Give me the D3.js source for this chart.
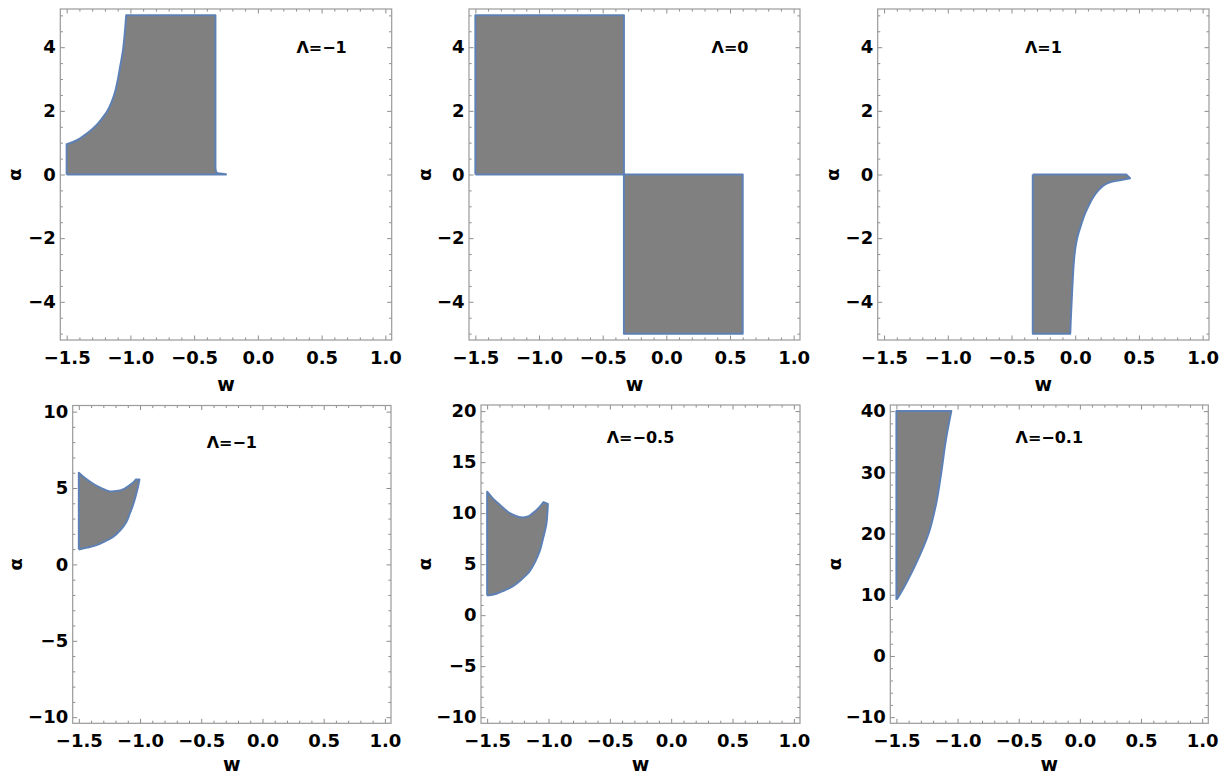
<!DOCTYPE html>
<html>
<head>
<meta charset="utf-8">
<script src="https://cdn.jsdelivr.net/npm/d3@7"></script>
<style>
  html, body { margin: 0; padding: 0; background: #ffffff; }
  svg { display: block; }
  text { font-family: "DejaVu Sans", sans-serif; font-weight: bold; fill: #000; }
</style>
</head>
<body>
<svg id="chart" width="1224" height="776"></svg>
<script>
// ---------- data ----------
const panelTitles = ["Λ=−1", "Λ=0", "Λ=1", "Λ=−1", "Λ=−0.5", "Λ=−0.1"];
const xTickValues = [-1.5, -1.0, -0.5, 0.0, 0.5, 1.0];
const yTicksTop = [-4, -2, 0, 2, 4];
const yTicksP4 = [-10, -5, 0, 5, 10];
const yTicksP5 = [-10, -5, 0, 5, 10, 15, 20];
const yTicksP6 = [-10, 0, 10, 20, 30, 40];
const xLabel = "w";
const yLabel = "α";

// region boundaries [w, α, corner-flag]
const regionP1 = [[-1.5,0,1],[-1.5,0.95,1],[-1.45,1.02],[-1.4,1.12],[-1.35,1.26],[-1.3,1.42],[-1.25,1.62],
  [-1.2,1.88],[-1.18,2.0],[-1.15,2.25],[-1.12,2.6],[-1.1,2.95],[-1.08,3.4],[-1.06,3.85],[-1.045,4.4],
  [-1.033,5.0,1],[-0.333,5.0,1],[-0.333,0.22,1],[-0.325,0.07],[-0.30,0.03],[-0.25,0.01,1],[-0.25,0.0,1]];
const regionP2a = [[-1.5,0,1],[-1.5,5,1],[-0.333,5,1],[-0.333,0,1]];
const regionP2b = [[-0.333,0,1],[0.6,0,1],[0.6,-5,1],[-0.333,-5,1]];
const regionP3 = [[-0.333,0,1],[0.40,0,1],[0.43,-0.12,1],[0.36,-0.17],[0.267,-0.25],[0.22,-0.35],[0.181,-0.5],
  [0.14,-0.72],[0.103,-1.0],[0.07,-1.3],[0.045,-1.6],[0.025,-1.85],[0.01,-2.1],[-0.005,-2.5],[-0.015,-3.0],
  [-0.022,-3.5],[-0.028,-4.0],[-0.034,-4.5],[-0.039,-5,1],[-0.333,-5,1]];
const regionP4 = [[-1.5,0.98,1],[-1.5,6.0,1],[-1.45,5.65],[-1.383,5.28],[-1.32,5.0],[-1.248,4.78],[-1.19,4.8],
  [-1.139,4.91],[-1.1,5.1],[-1.058,5.35],[-1.035,5.55,1],[-1.005,5.55,1],[-1.017,5.06],[-1.035,4.5],
  [-1.058,3.87],[-1.085,3.3],[-1.112,2.78],[-1.16,2.25],[-1.221,1.80],[-1.29,1.5],[-1.356,1.26],
  [-1.43,1.1]];
const regionP5 = [[-1.5,1.93,1],[-1.5,12.1,1],[-1.45,11.4],[-1.397,10.82],[-1.316,10.0],[-1.26,9.7],[-1.208,9.58],
  [-1.16,9.7],[-1.127,10.0],[-1.08,10.5],[-1.04,11.08,1],[-1.005,10.9,1],[-1.018,8.87],[-1.045,7.5],
  [-1.072,6.26],[-1.11,5.2],[-1.153,4.31],[-1.22,3.5],[-1.289,2.84],[-1.36,2.42],[-1.424,2.10]];
const regionP6 = [[-1.5,9.2,1],[-1.5,40,1],[-1.051,40,1],[-1.071,38],[-1.098,35],[-1.133,30],[-1.174,25],
  [-1.237,20],[-1.342,15],[-1.473,10]];

// ---------- layout ----------
const panels = [
  {box:[60.3, 9, 391.7, 340], yDom:[-5.2,5.2], yTicks:yTicksTop, yMinor:0.5, regions:[regionP1], title:[0.5,4], yLabOff:46, xLabOff:51},
  {box:[469, 9, 800, 340], yDom:[-5.2,5.2], yTicks:yTicksTop, yMinor:0.5, regions:[regionP2a, regionP2b], title:[0.5,4], yLabOff:45, xLabOff:51},
  {box:[877.7, 9, 1209, 340], yDom:[-5.2,5.2], yTicks:yTicksTop, yMinor:0.5, regions:[regionP3], title:[-0.25,4], yLabOff:45, xLabOff:51},
  {box:[72.7, 405.5, 391, 723.3], yDom:[-10.4,10.4], yTicks:yTicksP4, yMinor:1, regions:[regionP4], title:[-0.25,8], yLabOff:57, xLabOff:47.5},
  {box:[481, 405, 800, 723.3], yDom:[-10.6,20.6], yTicks:yTicksP5, yMinor:1, regions:[regionP5], title:[-0.25,17.4], yLabOff:57, xLabOff:47.5},
  {box:[890.3, 405, 1208.3, 723.3], yDom:[-11,41], yTicks:yTicksP6, yMinor:2, regions:[regionP6], title:[-0.25,35.7], yLabOff:56, xLabOff:47.5}
];

const svg = d3.select("#chart");
svg.append("rect").attr("width",1224).attr("height",776).attr("fill","#fff");

const fmt = d => (d < -1e-9 ? "\u2212" : "") + String(Math.abs(d));
const fmtX = d => (d < -1e-9 ? "\u2212" : "") + Math.abs(d).toFixed(1);

// corner points are repeated so the Catmull-Rom curve keeps them sharp
const withCorners = r => r.flatMap(p => p[2] ? [p, p] : [p]);

panels.forEach((p, i) => {
  const [x0, y0, x1, y1] = p.box;
  const x = d3.scaleLinear().domain([-1.55, 1.05]).range([x0, x1]);
  const y = d3.scaleLinear().domain(p.yDom).range([y1, y0]);
  const g = svg.append("g");

  const line = d3.line().x(d => x(d[0])).y(d => y(d[1])).curve(d3.curveCatmullRomClosed.alpha(0.5));
  p.regions.forEach(r => {
    g.append("path").attr("d", line(withCorners(r)))
      .attr("fill", "#808080").attr("stroke", "#5E81B5")
      .attr("stroke-width", 2).attr("stroke-linejoin", "round");
  });

  const tickColor = "#8c8c8c";
  const xMinor = d3.range(-15, 11).map(k => k / 10).filter(v => !xTickValues.some(t => Math.abs(t - v) < 1e-9));
  const yMinorVals = d3.range(Math.ceil(p.yDom[0] / p.yMinor), Math.floor(p.yDom[1] / p.yMinor) + 1)
    .map(k => k * p.yMinor).filter(v => !p.yTicks.some(t => Math.abs(t - v) < 1e-9));

  const axB = d3.axisBottom(x).tickValues(xTickValues).tickFormat(fmtX).tickSize(-4.5).tickPadding(11);
  const axT = d3.axisTop(x).tickValues(xTickValues).tickFormat("").tickSize(-4.5);
  const axL = d3.axisLeft(y).tickValues(p.yTicks).tickFormat(fmt).tickSize(-4.5).tickPadding(4.5);
  const axR = d3.axisRight(y).tickValues(p.yTicks).tickFormat("").tickSize(-4.5);
  const mB = d3.axisBottom(x).tickValues(xMinor).tickFormat("").tickSize(-2.6);
  const mT = d3.axisTop(x).tickValues(xMinor).tickFormat("").tickSize(-2.6);
  const mL = d3.axisLeft(y).tickValues(yMinorVals).tickFormat("").tickSize(-2.6);
  const mR = d3.axisRight(y).tickValues(yMinorVals).tickFormat("").tickSize(-2.6);

  const add = (ax, tx, ty) => {
    const a = g.append("g").attr("transform", `translate(${tx},${ty})`).call(ax);
    a.select(".domain").remove();
    a.attr("font-size", 18).attr("font-family", "DejaVu Sans");
    a.selectAll("line").attr("stroke", tickColor).attr("stroke-width", 1);
    a.selectAll("text").style("font-size", "18px").style("font-weight", "bold").attr("fill", "#000");
    return a;
  };
  add(axB, 0, y1); add(axT, 0, y0); add(axL, x0, 0); add(axR, x1, 0);
  add(mB, 0, y1); add(mT, 0, y0); add(mL, x0, 0); add(mR, x1, 0);

  g.append("rect").attr("x", x0).attr("y", y0).attr("width", x1 - x0).attr("height", y1 - y0)
    .attr("fill", "none").attr("stroke", "#9a9a9a").attr("stroke-width", 1.2);

  g.append("text").attr("x", x(p.title[0])).attr("y", y(p.title[1]))
    .attr("text-anchor", "middle").attr("dominant-baseline", "central")
    .style("font-size", "16px").text(panelTitles[i]);

  g.append("text").attr("x", (x0 + x1) / 2).attr("y", y1 + p.xLabOff)
    .attr("text-anchor", "middle").style("font-size", "19px").text(xLabel);
  g.append("text").attr("transform", `translate(${x0 - p.yLabOff},${(y0 + y1) / 2}) rotate(-90)`)
    .attr("text-anchor", "middle").attr("dominant-baseline", "central")
    .style("font-size", "18px").text(yLabel);
});
</script>
</body>
</html>
